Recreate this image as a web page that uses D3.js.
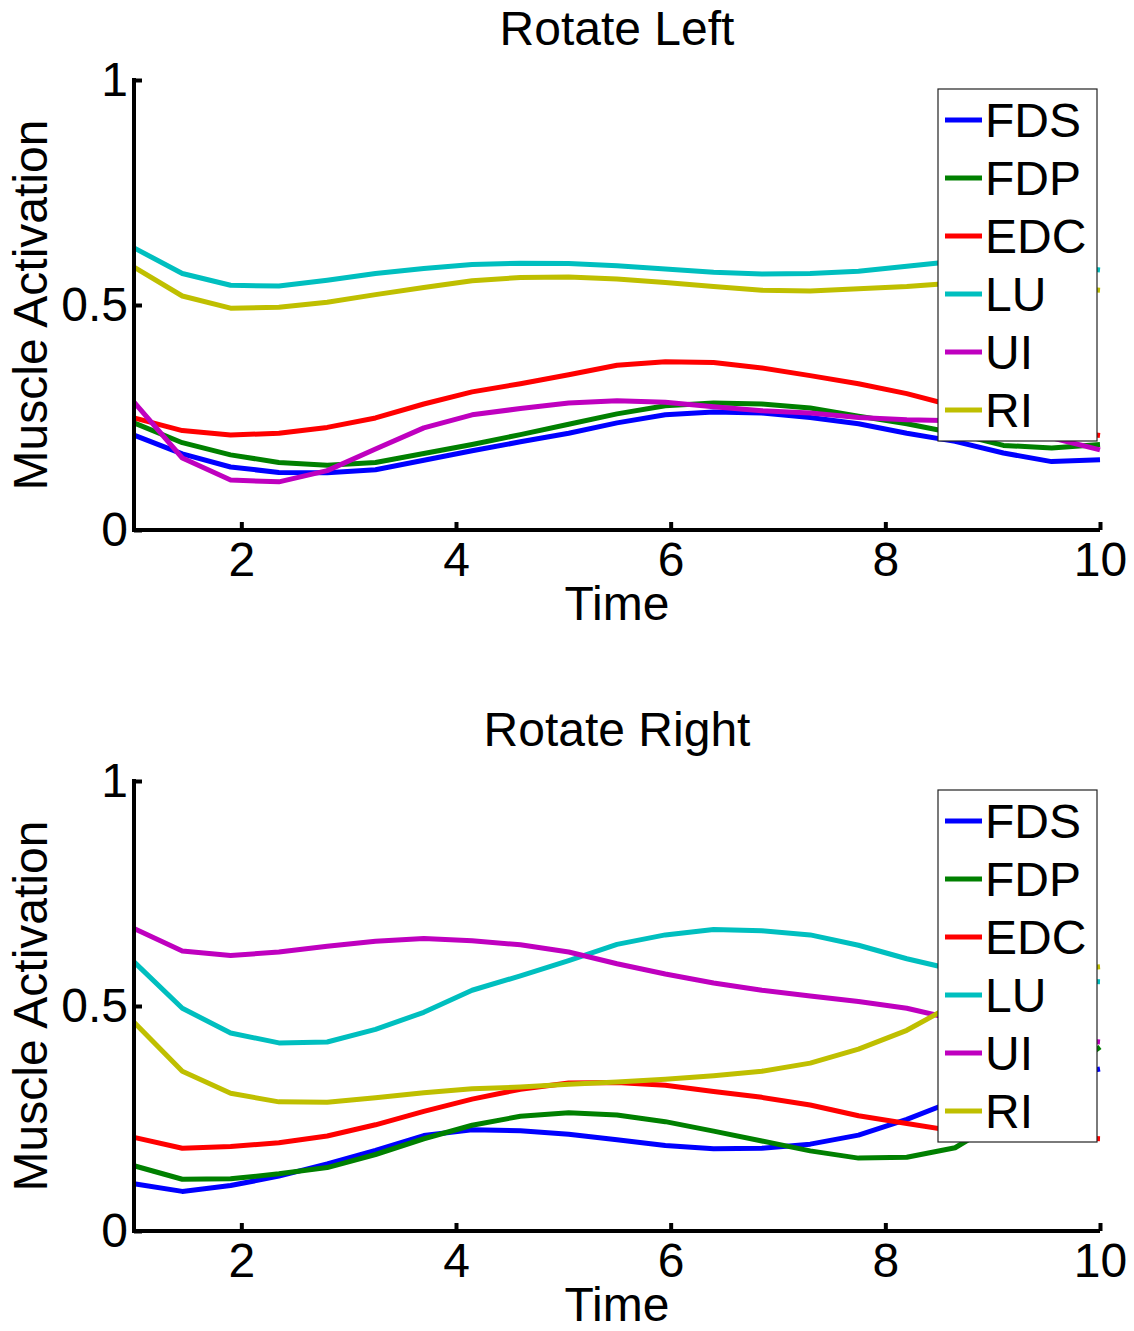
<!DOCTYPE html>
<html>
<head>
<meta charset="utf-8">
<script src="https://cdn.jsdelivr.net/npm/d3@7"></script>
<style>
  body { margin: 0; background: #fff; }
  svg { display: block; }
  text { font-family: Arial, "Liberation Sans", Helvetica, sans-serif; fill: #000; }
  .axis text { font-size: 48px; }
  .axis path, .axis line { stroke: #000; stroke-width: 4px; }
  .chart-title, .axis-title { font-size: 48px; }
  .legend-label { font-size: 48px; }
  .series { fill: none; stroke-width: 5px; stroke-linejoin: round; }
</style>
</head>
<body>
<div id="chart"></div>
<script>
// sample times (shared by both panels)
const time = [1, 1.45, 1.9, 2.35, 2.8, 3.25, 3.7, 4.15, 4.6, 5.05, 5.5, 5.95, 6.4, 6.85, 7.3, 7.75, 8.2, 8.65, 9.1, 9.55, 10];

const muscles = ['FDS', 'FDP', 'EDC', 'LU', 'UI', 'RI'];
const muscleColors = ['#0000ff', '#008000', '#ff0000', '#00bfbf', '#bf00bf', '#bfbf00'];

// Rotate Left
const leftFDS = [0.211, 0.169, 0.140, 0.128, 0.127, 0.134, 0.155, 0.176, 0.196, 0.215, 0.238, 0.256, 0.262, 0.260, 0.250, 0.236, 0.215, 0.197, 0.171, 0.152, 0.156];
const leftFDP = [0.238, 0.194, 0.167, 0.150, 0.144, 0.150, 0.170, 0.190, 0.212, 0.235, 0.258, 0.276, 0.282, 0.280, 0.271, 0.253, 0.236, 0.215, 0.188, 0.182, 0.190];
const leftEDC = [0.249, 0.221, 0.211, 0.215, 0.228, 0.249, 0.280, 0.307, 0.325, 0.345, 0.366, 0.374, 0.372, 0.360, 0.343, 0.325, 0.303, 0.275, 0.245, 0.225, 0.210];
const leftLU  = [0.627, 0.570, 0.544, 0.542, 0.555, 0.570, 0.581, 0.590, 0.593, 0.592, 0.587, 0.580, 0.573, 0.569, 0.570, 0.575, 0.586, 0.597, 0.598, 0.590, 0.578];
const leftUI  = [0.284, 0.160, 0.111, 0.107, 0.132, 0.180, 0.227, 0.256, 0.270, 0.282, 0.287, 0.284, 0.274, 0.265, 0.260, 0.250, 0.245, 0.243, 0.232, 0.205, 0.178];
const leftRI  = [0.584, 0.520, 0.493, 0.495, 0.506, 0.523, 0.539, 0.554, 0.561, 0.562, 0.558, 0.550, 0.541, 0.533, 0.531, 0.536, 0.541, 0.549, 0.550, 0.543, 0.533];

// Rotate Right
const rightFDS = [0.105, 0.088, 0.101, 0.122, 0.149, 0.179, 0.212, 0.225, 0.223, 0.215, 0.203, 0.190, 0.183, 0.184, 0.193, 0.213, 0.248, 0.290, 0.320, 0.340, 0.360];
const rightFDP = [0.145, 0.115, 0.116, 0.127, 0.141, 0.170, 0.205, 0.235, 0.255, 0.263, 0.258, 0.243, 0.222, 0.200, 0.178, 0.162, 0.164, 0.185, 0.250, 0.330, 0.409];
const rightEDC = [0.208, 0.184, 0.188, 0.196, 0.211, 0.236, 0.266, 0.293, 0.315, 0.329, 0.330, 0.324, 0.310, 0.297, 0.280, 0.256, 0.239, 0.222, 0.215, 0.210, 0.205];
const rightLU  = [0.598, 0.495, 0.440, 0.418, 0.420, 0.448, 0.486, 0.535, 0.567, 0.601, 0.637, 0.658, 0.670, 0.667, 0.658, 0.635, 0.605, 0.580, 0.565, 0.558, 0.554];
const rightUI  = [0.672, 0.622, 0.612, 0.620, 0.633, 0.644, 0.650, 0.645, 0.636, 0.620, 0.594, 0.571, 0.551, 0.535, 0.522, 0.510, 0.495, 0.470, 0.450, 0.430, 0.420];
const rightRI  = [0.464, 0.355, 0.306, 0.287, 0.286, 0.296, 0.307, 0.316, 0.320, 0.326, 0.331, 0.337, 0.345, 0.355, 0.373, 0.404, 0.446, 0.505, 0.550, 0.575, 0.587];

const xTicks = [2, 4, 6, 8, 10];
const yTicks = [0, 0.5, 1];

class LinePlot {
  constructor(_config, _data) {
    this.config = {
      svg: _config.svg,
      top: _config.top,
      width: 966,
      height: 450,
      left: 134,
      title: _config.title
    };
    this.data = _data;
    this.initVis();
  }

  initVis() {
    let vis = this;
    vis.chart = vis.config.svg.append('g')
        .attr('transform', `translate(${vis.config.left},${vis.config.top})`);

    vis.xScale = d3.scaleLinear().domain([1, 10]).range([0, vis.config.width]);
    vis.yScale = d3.scaleLinear().domain([0, 1]).range([vis.config.height, 0]);

    // MATLAB style: ticks point inward
    vis.xAxis = d3.axisBottom(vis.xScale)
        .tickValues(xTicks)
        .tickSizeInner(-8)
        .tickSizeOuter(0)
        .tickPadding(12)
        .tickFormat(d3.format('d'));

    vis.yAxis = d3.axisLeft(vis.yScale)
        .tickValues(yTicks)
        .tickSizeInner(-8)
        .tickSizeOuter(0)
        .tickPadding(6)
        .tickFormat(d => d === 0.5 ? '0.5' : d);

    vis.line = d3.line()
        .x((d, i) => vis.xScale(time[i]))
        .y(d => vis.yScale(d));

    vis.renderVis();
  }

  renderVis() {
    let vis = this;
    const h = vis.config.height;

    vis.chart.selectAll('.series')
        .data(vis.data)
      .join('path')
        .attr('class', 'series')
        .attr('stroke', d => d.color)
        .attr('d', d => vis.line(d.values));

    vis.chart.append('g')
        .attr('class', 'axis x-axis')
        .attr('transform', `translate(0,${h})`)
        .call(vis.xAxis)
        .call(g => g.select('.domain').attr('d', `M-2,0H${vis.config.width}`));

    vis.chart.append('g')
        .attr('class', 'axis y-axis')
        .call(vis.yAxis)
        .call(g => g.select('.domain').attr('d', `M0,-2V${h + 2}`));

    vis.chart.selectAll('.axis text').attr('font-family', null).attr('font-size', null);

    vis.chart.append('text')
        .attr('class', 'chart-title')
        .attr('x', 483)
        .attr('y', -35)
        .attr('text-anchor', 'middle')
        .text(vis.config.title);

    vis.chart.append('text')
        .attr('class', 'axis-title')
        .attr('x', 483)
        .attr('y', h + 90)
        .attr('text-anchor', 'middle')
        .text('Time');

    vis.chart.append('text')
        .attr('class', 'axis-title')
        .attr('transform', `translate(-87,${h / 2}) rotate(-90)`)
        .attr('text-anchor', 'middle')
        .text('Muscle Activation');

    // legend box
    const legend = vis.chart.append('g')
        .attr('transform', 'translate(804,9)');

    legend.append('rect')
        .attr('width', 159)
        .attr('height', 352)
        .attr('fill', '#fff')
        .attr('stroke', '#222')
        .attr('stroke-width', 1.2);

    const rows = legend.selectAll('.legend-row')
        .data(vis.data)
      .join('g')
        .attr('class', 'legend-row')
        .attr('transform', (d, i) => `translate(0,${31 + i * 58})`);

    rows.append('line')
        .attr('x1', 7).attr('x2', 44)
        .attr('stroke', d => d.color)
        .attr('stroke-width', 5);

    rows.append('text')
        .attr('class', 'legend-label')
        .attr('x', 47)
        .attr('dy', '0.36em')
        .text(d => d.name);
  }
}

const svg = d3.select('#chart').append('svg')
    .attr('width', 1134)
    .attr('height', 1331);

const makeSeries = arrays => muscles.map((m, i) => ({name: m, color: muscleColors[i], values: arrays[i]}));

new LinePlot({svg: svg, top: 80, title: 'Rotate Left'},
  makeSeries([leftFDS, leftFDP, leftEDC, leftLU, leftUI, leftRI]));
new LinePlot({svg: svg, top: 781, title: 'Rotate Right'},
  makeSeries([rightFDS, rightFDP, rightEDC, rightLU, rightUI, rightRI]));
</script>
</body>
</html>
